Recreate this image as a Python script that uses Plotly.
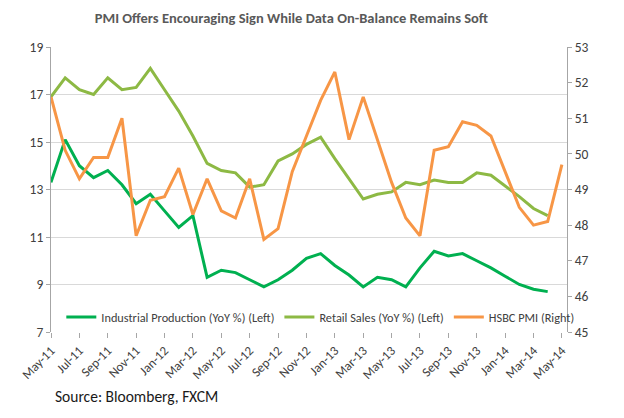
import plotly.graph_objects as go

months = ["May-11","Jun-11","Jul-11","Aug-11","Sep-11","Oct-11","Nov-11","Dec-11",
          "Jan-12","Feb-12","Mar-12","Apr-12","May-12","Jun-12","Jul-12","Aug-12",
          "Sep-12","Oct-12","Nov-12","Dec-12","Jan-13","Feb-13","Mar-13","Apr-13",
          "May-13","Jun-13","Jul-13","Aug-13","Sep-13","Oct-13","Nov-13","Dec-13",
          "Jan-14","Feb-14","Mar-14","Apr-14","May-14"]

industrial_production = [13.3, 15.1, 14.0, 13.5, 13.8, 13.2, 12.4, 12.8,
                         12.1, 11.4, 11.9, 9.3, 9.6, 9.5, 9.2, 8.9,
                         9.2, 9.6, 10.1, 10.3, 9.8, 9.4, 8.9, 9.3,
                         9.2, 8.9, 9.7, 10.4, 10.2, 10.3, 10.0, 9.7,
                         9.35, 9.0, 8.8, 8.7, None]

retail_sales = [16.9, 17.7, 17.2, 17.0, 17.7, 17.2, 17.3, 18.1,
                17.2, 16.3, 15.25, 14.1, 13.8, 13.7, 13.1, 13.2,
                14.2, 14.5, 14.9, 15.2, 14.3, 13.45, 12.6, 12.8,
                12.9, 13.3, 13.2, 13.4, 13.3, 13.3, 13.7, 13.6,
                13.15, 12.7, 12.2, 11.9, None]

hsbc_pmi = [51.6, 50.1, 49.3, 49.9, 49.9, 51.0, 47.7, 48.7,
            48.8, 49.6, 48.3, 49.3, 48.4, 48.2, 49.3, 47.6,
            47.9, 49.5, 50.5, 51.5, 52.3, 50.4, 51.6, 50.4,
            49.2, 48.2, 47.7, 50.1, 50.2, 50.9, 50.8, 50.5,
            49.5, 48.5, 48.0, 48.1, 49.7]

left_ticks = [7, 9, 11, 13, 15, 17, 19]
right_ticks = [45, 46, 47, 48, 49, 50, 51, 52, 53]

FONT = "Carlito, Lato, sans-serif"
idx = list(range(len(months)))

fig = go.Figure()
fig.add_trace(go.Scatter(x=idx, y=industrial_production, mode="lines",
                         name="Industrial Production (YoY %) (Left)",
                         line=dict(color="#00B050", width=3)))
fig.add_trace(go.Scatter(x=idx, y=retail_sales, mode="lines",
                         name="Retail Sales (YoY %) (Left)",
                         line=dict(color="#8DB944", width=3)))
fig.add_trace(go.Scatter(x=idx, y=hsbc_pmi, mode="lines",
                         name="HSBC PMI (Right)", yaxis="y2",
                         line=dict(color="#F79646", width=3)))

fig.update_layout(
    width=624, height=418,
    margin=dict(l=51, r=57, t=47, b=86),
    paper_bgcolor="white", plot_bgcolor="white",
    font=dict(family=FONT, color="#404040", size=12),
    title=dict(text="<b>PMI Offers Encouraging Sign While Data On-Balance Remains Soft</b>",
               x=0.467, xanchor="center", y=0.957, yanchor="middle",
               font=dict(family=FONT, size=14.5, color="#595959")),
    xaxis=dict(range=[0, 36.36], tickvals=idx[::2], ticktext=months[::2],
               tickangle=-45, ticks="outside", ticklen=5, tickcolor="#A6A6A6",
               showgrid=False, showline=False, zeroline=False,
               tickfont=dict(size=13, color="#404040")),
    yaxis=dict(range=[7, 19], tickvals=left_ticks, showgrid=True,
               gridcolor="#D9D9D9", gridwidth=1, showline=True, linecolor="#A6A6A6",
               ticks="outside", ticklen=4, tickcolor="#A6A6A6", zeroline=False,
               tickfont=dict(size=13.5, color="#404040")),
    yaxis2=dict(range=[45, 53], tickvals=right_ticks, overlaying="y", side="right",
                showgrid=False, showline=True, linecolor="#A6A6A6",
                ticks="outside", ticklen=4, tickcolor="#A6A6A6", zeroline=False,
                tickfont=dict(size=13.5, color="#404040")),
    legend=dict(orientation="h", x=0.02, y=0.053, xanchor="left", yanchor="middle",
                bgcolor="rgba(0,0,0,0)", font=dict(size=12.3, color="#404040"),
                itemwidth=30, tracegroupgap=0),
    showlegend=True,
)

fig.add_annotation(text="Source: Bloomberg, FXCM", xref="paper", yref="paper",
                   x=0.004, y=-0.225, xanchor="left", yanchor="middle", showarrow=False,
                   font=dict(family=FONT, size=15.5, color="#1a1a1a"))

fig.write_html("out.html")
